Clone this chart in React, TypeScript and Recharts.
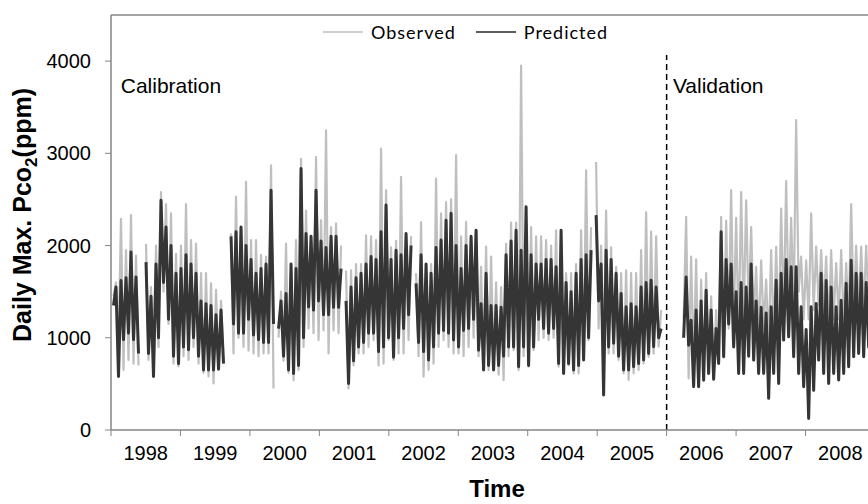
import { Legend, Line, LineChart, ReferenceDot, ReferenceLine, XAxis, YAxis } from "recharts";

// one sample every ~26 days; each sample holds the high and the low of the daily trace in that window
const STEP_YEARS = 26.3 / 365.25;
const START_YEAR = 1998;
const SPLIT_YEAR = 2006;

const yearTicks = [1998, 1999, 2000, 2001, 2002, 2003, 2004, 2005, 2006, 2007, 2008, 2009];
const valueTicks = [0, 1000, 2000, 3000, 4000];

const observedHigh = [
  null, 1600, 2290, 1950, 2330, 1890, null, 2020, 1550, 2000, 2580, 2450, 2350, 1910, 2000, 2450,
  2060, 2020, 1700, 1700, 1590, 1520, 1400, null, 2130, 2530, 2200, 2690, 2060, 2060, 1900, 1880,
  2870, null, 1500, 2020, 1730, 2060, 2940, 2380, 2060, 2960, 2275, 3250, 2200, 2240, 2000, 1730,
  1730, 1800, 1800, 2110, 2100, 2060, 3050, 2600, 1980, 2050, 2745, 2100, 2100, 1700, 2255, 1770,
  1800, 2725, 2350, 2470, 2500, 2980, 2100, 2256, 2060, 2160, 1770, 1990, 1880, 1600, 1550, 2020,
  2250, 2250, 3950, 2240, 2200, 2100, 2100, 2060, 2000, 2165, 1880, 1700, 1700, 1800, 2165, 2815,
  2200, 2905, 2000, 2380, 1980, 1770, 1700, 1730, 1700, 1700, 1950, 2360, 2150, 2100, 1300, null,
  null, null, null, 2310, 1880, 1850, 1630, 1700, 1450, 1300, 2310, 2270, 2600, 2300, 2580, 2490,
  2200, 1770, 1840, 1630, 1950, 1985, 2400, 2700, 2300, 3360, 1880, 1840, 2350, 1990, 1950, 1880,
  1950, 1810, 1950, 1810, 2450, 2000, 1990, 2000, 1900, 1950,
];
const observedLow = [
  1450, 900, 650, 760, 720, 700, null, 760, 600, 900, 1500, 1150, 720, 690, 800, 760,
  900, 720, 620, 580, 505, 680, 760, null, 830, 1000, 900, 860, 830, 800, 830, 830,
  450, 1000, 750, 620, 540, 650, 900, 1100, 1050, 975, 1080, 830, 1080, 1050, null, 450,
  700, 830, 830, 900, 975, 700, 720, 975, 760, 830, 830, 975, null, 800, 578, 650,
  720, 900, 975, 900, 830, 830, 800, 900, 1000, 800, 650, 650, 686, 600, 540, 800,
  866, 650, 800, 686, 866, 975, 1000, 975, 1000, 686, 650, 700, 614, 614, 760, 975,
  null, 1100, 800, 830, 830, 760, 614, 542, 614, 650, 722, 794, 830, 903, null, null,
  null, null, 1200, 560, 700, 469, 614, 614, 550, 722, 795, 1100, 1100, 1000, 1200, 1300,
  1200, 1000, 1100, 900, 1000, 1000, 1200, 1300, 1300, 1500, 1200, 1200, 1300, 1350, 1300, 1100,
  1200, 1200, 1150, 1200, 1300, 1300, 1300, 1300, 1250, 1300,
];
const predictedHigh = [
  null, 1550, 1620, 1650, 1930, 1660, null, 1820, 1450, 1800, 2490, 2200, 2000, 1700, 1750, 1900,
  1800, 1700, 1400, 1370, 1350, 1250, 1300, null, 2100, 2150, 2200, 2000, 1850, 1700, 1750, 1800,
  2600, null, 1400, 1480, 1800, 1750, 2835, 2130, 2100, 2600, 2050, 1980, 2100, 2100, 1750, 1400,
  1550, 1650, 1700, 1800, 1880, 1850, 2150, 2440, 1850, 1950, 1900, 2130, 2000, 1590, 1900, 1800,
  1700, 1980, 2060, 2275, 2350, 2000, 1750, 2000, 2100, 2165, 1370, 1700, 1350, 1350, 1330, 1900,
  2050, 2165, 1950, 2420, 1900, 1800, 1800, 1850, 1850, 1770, 2165, 1600, 1500, 1700, 1850, 1900,
  1950, 2330, 1800, 1950, 1850, 1700, 1480, 1336, 1370, 1336, 1550, 1600, 1625, 1550, 1100, null,
  null, null, null, 1660, 1190, 1300, 1400, 1515, 1300, 1100, 2150, 1850, 1800, 1500, 1600, 1550,
  1800, 1400, 1330, 1270, 1336, 1625, 1700, 1850, 1770, 1770, 1336, 1090, 1336, 1372, 1700, 1620,
  1550, 1336, 1408, 1590, 1840, 1700, 1700, 1600, 1500, 1550,
];
const predictedLow = [
  1350, 580, 980, 1050, 980, 830, null, 830, 580, 1000, 1600, 1200, 800, 720, 900, 870,
  1000, 800, 650, 650, 650, 660, 720, null, 1150, 1050, 1050, 1200, 1030, 980, 950, 950,
  1150, 1100, 800, 650, 614, 700, 1000, 1335, 1300, 1400, 1250, 1250, 1330, 1330, null, 505,
  750, 900, 950, 1050, 1050, 850, 900, 1000, 790, 1000, 1100, 1250, null, 950, 850, 760,
  900, 1050, 1080, 1050, 975, 900, 1080, 1100, 1200, 866, 650, 700, 650, 700, 800, 900,
  900, 686, 900, 700, 900, 1200, 1100, 1050, 1100, 722, 614, 720, 650, 700, 760, 1000,
  null, 1400, 380, 900, 940, 800, 650, 650, 686, 720, 760, 830, 903, 1000, null, null,
  null, null, 1000, 920, 470, 470, 540, 614, 550, 722, 795, 1150, 900, 614, 614, 800,
  758, 614, 614, 343, 614, 505, 975, 1010, 794, 614, 469, 126, 430, 758, 614, 505,
  614, 542, 614, 686, 794, 830, 794, 900, 850, 900,
];

const data = observedHigh.flatMap((_, k) => {
  const t = START_YEAR + k * STEP_YEARS;
  return [
    { t, observed: observedHigh[k], predicted: predictedHigh[k] },
    { t: t + STEP_YEARS / 2, observed: observedLow[k], predicted: predictedLow[k] },
  ];
});

const CHART_W = 890;
const CHART_H = 504;
const MARGIN = { top: 15, right: 15, bottom: 34, left: 51 };
const Y_AXIS_W = 60;
const PLOT_W = CHART_W - MARGIN.left - MARGIN.right - Y_AXIS_W;
const YEAR_PX = PLOT_W / (yearTicks.length - 1);

const AXIS_GREY = "#868686";
const OBS_COLOR = "#bfbfbf";
const PRED_COLOR = "#353535";
const FONT = "'Liberation Sans', Arial, sans-serif";

const YearTick = (props: any) => {
  const { x, y, payload } = props;
  if (payload.value >= 2009) return <g />;
  return (
    <text x={x + YEAR_PX / 2} y={y + 22} textAnchor="middle" fontSize={20} fontFamily={FONT} fill="#000">
      {payload.value}
    </text>
  );
};

const YTitle = () => (
  <text
    x={31}
    y={215}
    transform="rotate(-90 31 215)"
    textAnchor="middle"
    fontSize={25}
    fontWeight="bold"
    fontFamily={FONT}
    fill="#000"
  >
    Daily Max. Pco
    <tspan dy={6} fontSize={17}>
      2
    </tspan>
    <tspan dy={-6}>(ppm)</tspan>
  </text>
);

const XTitle = (props: any) => {
  const { viewBox } = props;
  return (
    <text
      x={viewBox.x + viewBox.width / 2 + 4}
      y={497}
      textAnchor="middle"
      fontSize={24}
      fontWeight="bold"
      fontFamily={FONT}
      fill="#000"
    >
      Time
    </text>
  );
};

const legendItems = [
  { name: "Observed", color: OBS_COLOR },
  { name: "Predicted", color: "#262626" },
];

const renderLegend = () => (
  <div style={{ display: "flex", alignItems: "center", fontFamily: "Lato, 'Open Sans', sans-serif", fontSize: 18, letterSpacing: 1 }}>
    {legendItems.map((item) => (
      <div key={item.name} style={{ display: "flex", alignItems: "center", marginRight: 20 }}>
        <svg width={40} height={4} style={{ marginRight: 8 }}>
          <line x1={0} y1={2} x2={40} y2={2} stroke={item.color} strokeWidth={1.5} />
        </svg>
        <span>{item.name}</span>
      </div>
    ))}
  </div>
);

export default function App() {
  return (
    <div style={{ position: "absolute", left: 0, top: 0, width: 868, height: 504, overflow: "hidden", background: "#fff" }}>
      <LineChart width={CHART_W} height={CHART_H} data={data} margin={MARGIN}>
        <XAxis
          dataKey="t"
          type="number"
          domain={[1998, 2009]}
          ticks={yearTicks}
          allowDataOverflow
          tick={<YearTick />}
          tickSize={6}
          height={40}
          axisLine={{ stroke: AXIS_GREY, strokeWidth: 1.5 }}
          tickLine={{ stroke: AXIS_GREY, strokeWidth: 1 }}
          label={<XTitle />}
        />
        <YAxis
          domain={[0, 4500]}
          ticks={valueTicks}
          width={Y_AXIS_W}
          tickSize={6}
          tickMargin={14}
          axisLine={{ stroke: AXIS_GREY, strokeWidth: 1.5 }}
          tickLine={{ stroke: AXIS_GREY, strokeWidth: 1 }}
          tick={{ fontSize: 20, fontFamily: FONT, fill: "#000" }}
          label={<YTitle />}
        />
        <ReferenceLine y={4500} stroke={AXIS_GREY} strokeWidth={1.5} />
        <ReferenceLine
          segment={[
            { x: SPLIT_YEAR, y: 0 },
            { x: SPLIT_YEAR, y: 4065 },
          ]}
          stroke="#000"
          strokeWidth={1.5}
          strokeDasharray="6 4"
        />
        <ReferenceDot
          x={1998.14}
          y={3740}
          r={0}
          fill="none"
          stroke="none"
          label={{ value: "Calibration", position: "right", offset: 0, fontSize: 21, fontFamily: FONT, fill: "#000" }}
        />
        <ReferenceDot
          x={2006.09}
          y={3740}
          r={0}
          fill="none"
          stroke="none"
          label={{ value: "Validation", position: "right", offset: 0, fontSize: 21, fontFamily: FONT, fill: "#000" }}
        />
        <Line
          type="linear"
          dataKey="observed"
          name="Observed"
          stroke={OBS_COLOR}
          strokeWidth={2.2}
          strokeLinejoin="round"
          dot={false}
          isAnimationActive={false}
        />
        <Line
          type="linear"
          dataKey="predicted"
          name="Predicted"
          stroke={PRED_COLOR}
          strokeWidth={3}
          strokeLinejoin="round"
          dot={false}
          isAnimationActive={false}
        />
        <Legend
          layout="vertical"
          verticalAlign="middle"
          align="center"
          content={renderLegend}
          wrapperStyle={{ top: 21, left: 323, width: "auto" }}
        />
      </LineChart>
    </div>
  );
}
